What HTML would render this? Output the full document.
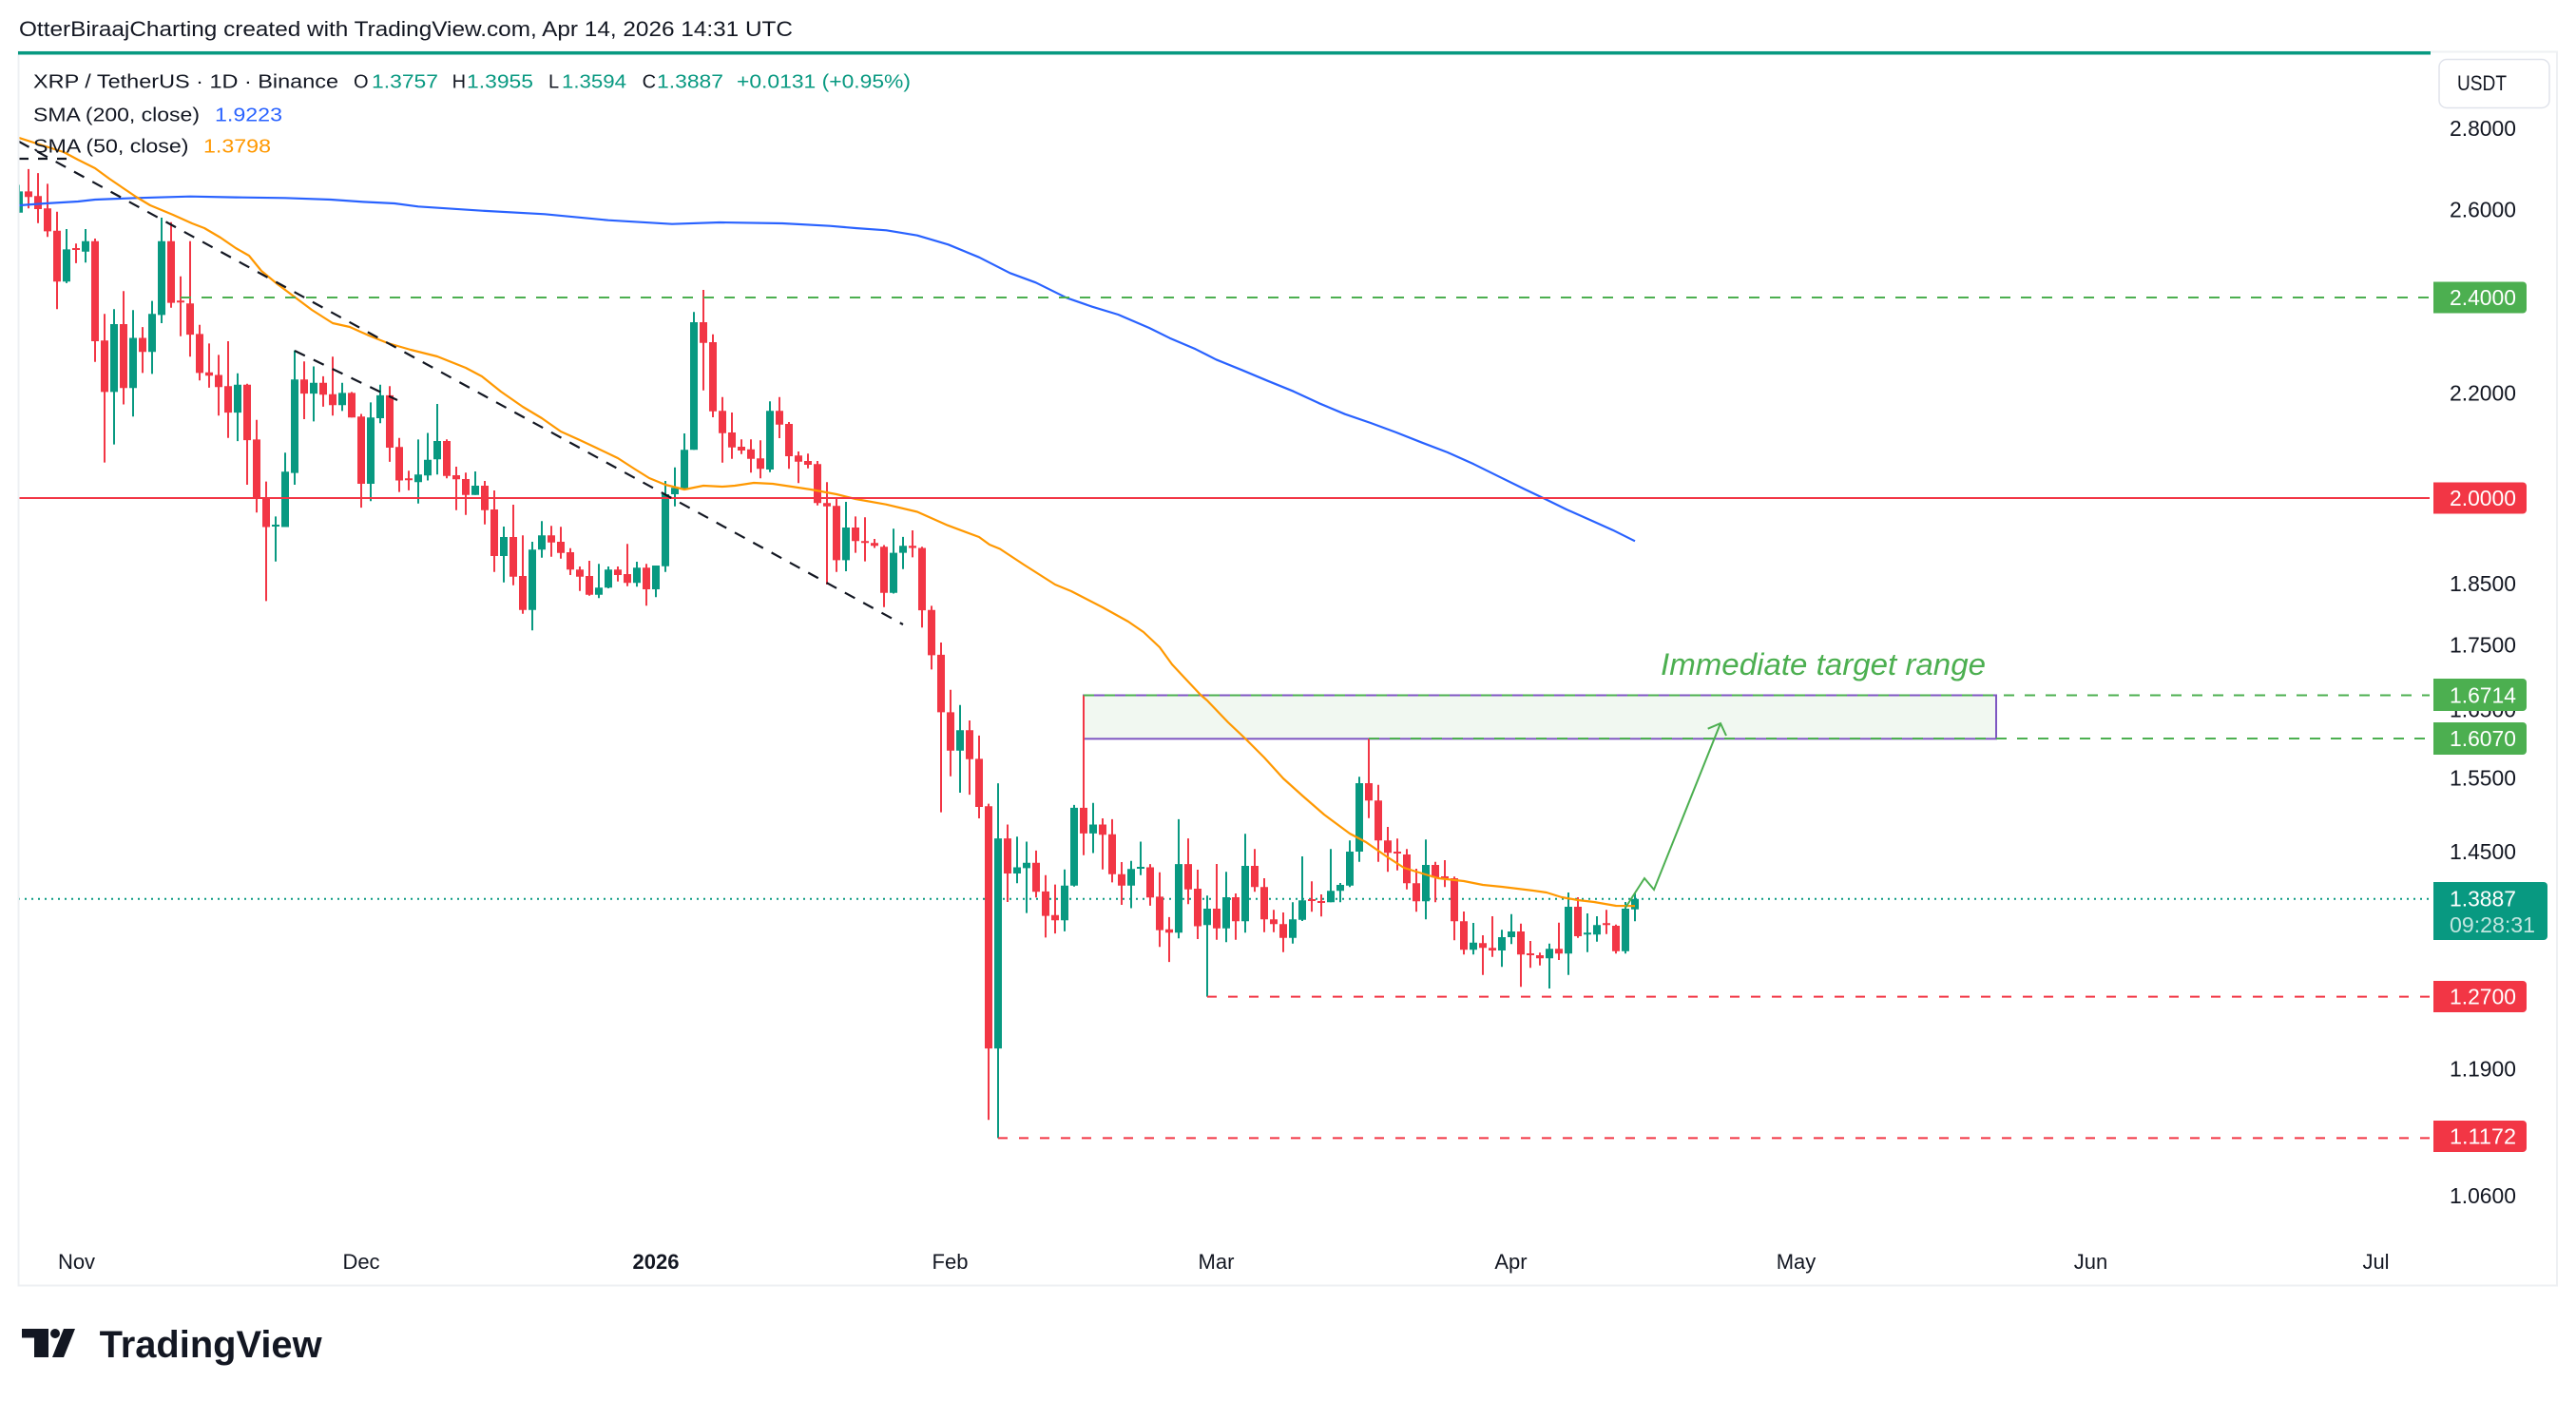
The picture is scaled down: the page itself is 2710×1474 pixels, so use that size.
<!DOCTYPE html>
<html><head><meta charset="utf-8"><style>
html,body{margin:0;padding:0;background:#fff;width:2710px;height:1474px;overflow:hidden}
svg{display:block}
text{font-family:"Liberation Sans",sans-serif}
</style></head><body>
<svg width="2710" height="1474" viewBox="0 0 2710 1474" xmlns="http://www.w3.org/2000/svg">
<defs><clipPath id="pane"><rect x="20.5" y="57" width="2536" height="1290"/></clipPath></defs>
<rect width="2710" height="1474" fill="#fff"/>
<text x="20" y="38" font-size="22" fill="#131722" textLength="814" lengthAdjust="spacingAndGlyphs">OtterBiraajCharting created with TradingView.com, Apr 14, 2026 14:31 UTC</text>
<rect x="19.5" y="54.5" width="2670.5" height="1298" fill="none" stroke="#eef0f3" stroke-width="2"/>
<rect x="19" y="54" width="2538" height="3.5" fill="#089981"/>

<g clip-path="url(#pane)">
<line x1="19" y1="945.8" x2="2556" y2="945.8" stroke="#089981" stroke-width="2" stroke-dasharray="2 5"/>
<rect x="1140" y="731.5" width="960" height="45.8" fill="#f1f8f1" stroke="#7e57c2" stroke-width="2"/>

<path fill="none" stroke="#089981" stroke-width="2" d="M20 194.5V223.8M70 241V297.9M90 241V276.2M120 325.2V467.6M140 326.2V438.3M160 316.6V393.4M170 229V340M250 392.8V464.1M290 543.4V590.7M300 476.2V554.5M310 368.6V510M330 385.5V443.4M360 402.8V432.4M390 423.4V527.2M400 404.8V445.2M440 462.4V529.7M450 455.5V505.5M460 425V499.3M500 496V520.7M530 554V612.7M560 570V663.3M570 548.3V586.7M630 593.3V629.3M640 596V619M670 591V617.3M690 595V628.3M700 506V601.7M710 491.7V532.7M720 456V514M730 328.3V473.3M810 422.3V496.7M890 528V601M940 556.3V624.5M950 564.9V598.8M1010 741.7V834M1050 824.1V1197.4M1070 880.3V929.3M1080 885.5V960.6M1120 914.7V979.9M1130 846.9V932.7M1150 844.7V897.5M1190 905.7V955.5M1200 885.5V920.7M1240 861.9V987.2M1270 942.3V1048.6M1290 917.3V991.3M1310 877.3V981.3M1360 949.3V992.7M1370 901V969M1400 893.3V949.3M1410 929V949.3M1420 884.3V933.3M1430 817.3V906.7M1500 883.3V967.3M1550 971V1004.3M1580 978.3V1017.3M1590 961.7V993.3M1630 992.7V1040M1650 939V1025.7M1670 961V1001.7M1680 964V990.7M1710 949V1003.3M1720 940V969.3"/>
<path fill="#089981" d="M16 201.4h8V223.8h-8zM66 262.4h8V296.2h-8zM86 253.8h8V264.8h-8zM116 341h8V412.4h-8zM136 355.5h8V408.3h-8zM156 330.3h8V370.3h-8zM166 253.8h8V331.4h-8zM246 404.8h8V434.1h-8zM286 552h8V554h-8zM296 496.2h8V554.5h-8zM306 399.3h8V497.6h-8zM326 402.8h8V414.1h-8zM356 413.4h8V426.2h-8zM386 439.3h8V509h-8zM396 415.9h8V440h-8zM436 499.3h8V507.2h-8zM446 483.8h8V500.3h-8zM456 464h8V483.3h-8zM496 511h8V520.7h-8zM526 565h8V585h-8zM556 578.3h8V641.7h-8zM566 563.3h8V578.3h-8zM626 618.3h8V625.7h-8zM636 599.3h8V618.3h-8zM666 597.3h8V613.3h-8zM686 595h8V620h-8zM696 520h8V595.7h-8zM706 513.3h8V520h-8zM716 473.3h8V514h-8zM726 339h8V473.3h-8zM806 432.3h8V494h-8zM886 555h8V589.4h-8zM936 581.6h8V623.7h-8zM946 574.3h8V581.6h-8zM1006 768.3h8V789.8h-8zM1046 882.1h8V1103.1h-8zM1066 912.5h8V919h-8zM1076 907.8h8V913.4h-8zM1116 931.8h8V968.3h-8zM1126 849.9h8V931.8h-8zM1146 867.5h8V876.9h-8zM1186 914.2h8V931.8h-8zM1196 912h8V914h-8zM1236 909.1h8V981.2h-8zM1266 956h8V973.3h-8zM1286 944h8V976.7h-8zM1306 911h8V969.3h-8zM1356 967.3h8V986.7h-8zM1366 947.3h8V967.7h-8zM1396 937.3h8V949.3h-8zM1406 931h8V937.3h-8zM1416 896h8V931.7h-8zM1426 824h8V896h-8zM1496 910h8V948.3h-8zM1546 991.7h8V999.3h-8zM1576 986h8V1000h-8zM1586 980h8V986h-8zM1626 998.3h8V1008.3h-8zM1646 954h8V1003.3h-8zM1666 981.3h8V983.3h-8zM1676 973.3h8V983.3h-8zM1706 956h8V1000.7h-8zM1716 945.8h8V956.7h-8z"/>
<path fill="none" stroke="#f23645" stroke-width="2" d="M30 177.9V219.3M40 182.1V234.8M50 193.4V249.3M60 222.8V325.2M80 256.2V276.9M100 251V380.7M110 330.3V486.6M130 306.2V425.5M150 344.1V392.4M180 233.8V323.8M190 290.7V353.8M200 253.8V375.2M210 341.7V400.3M220 361.4V407.9M230 373.4V437.2M240 359V460.7M260 403.8V510M270 441.7V539.3M280 506.6V632.4M320 380.3V441M340 395.9V427.9M350 375.2V437.2M370 412.4V439.3M380 435.5V534.1M410 406.2V485.9M420 460.7V517.6M430 495.2V515.9M470 462.3V503.3M480 491V536.7M490 497.3V541.7M510 506V551.7M520 516V601.7M540 531V615.7M550 563.3V645.7M580 553.3V585.7M590 554.3V587.7M600 576.7V605M610 596V621.7M620 590V626.7M650 596V611.7M660 572.3V616.7M680 593.3V637.3M740 305V410.7M750 351.7V439M760 417.7V486.7M770 434V482.7M780 462.3V477.7M790 462.3V497.3M800 463.3V503.3M820 417.7V461M830 444V493.3M840 475V508.3M850 477.3V492.7M860 485V531.7M870 507.3V615M880 523.3V601.7M900 543.4V581.6M910 544.3V590.6M920 567V576.5M930 573.5V638.7M960 558V586.4M970 575.2V660.2M980 637.4V704.4M990 676V854.6M1000 725.8V816.8M1020 758V836.1M1030 773.9V861M1040 845.6V1178.2M1060 867.5V949M1090 894.9V944.3M1100 920.7V986.4M1110 930.6V982.1M1140 731.5V899.7M1160 861V914.7M1170 861.9V928.4M1180 907V952M1210 909.1V952.9M1220 917.7V996.2M1230 964.9V1012.1M1250 882.1V951.2M1260 915V988M1280 909V988.7M1300 940V988.7M1320 893.3V938.3M1330 924V980.7M1340 957.3V980.7M1350 960V1001.7M1380 927.3V959.3M1390 941V964.3M1440 777V860.7M1450 825.7V906.7M1460 870V917.3M1470 882.3V915.7M1480 893.3V935.7M1490 914V959.3M1510 906.7V949.3M1520 905V933.3M1530 922.3V989.3M1540 959V1004.3M1560 984V1025.7M1570 964V1006.7M1600 971.7V1038.3M1610 990V1018.3M1620 1002.3V1015.7M1640 970.7V1010M1660 944V986.7M1690 957.3V982.7M1700 972.7V1003.3"/>
<path fill="#f23645" d="M26 201.4h8V207.2h-8zM36 206.2h8V220h-8zM46 219.3h8V243.4h-8zM56 242.8h8V296.2h-8zM76 261h8V263h-8zM96 253.8h8V359h-8zM106 358.3h8V412.4h-8zM126 341h8V408.3h-8zM146 355.5h8V370.3h-8zM176 253.8h8V318.6h-8zM186 316.3h8V318.3h-8zM196 319.3h8V352.1h-8zM206 351.4h8V392.4h-8zM216 391.7h8V395.2h-8zM226 394.5h8V407.2h-8zM236 406.2h8V434.1h-8zM256 404.8h8V463.1h-8zM266 462.4h8V524.5h-8zM276 524.5h8V554.5h-8zM316 399.3h8V414.1h-8zM336 402.8h8V415.2h-8zM346 414.8h8V426.2h-8zM366 413.4h8V439.3h-8zM376 438.3h8V509h-8zM406 415.9h8V471h-8zM416 470.3h8V505.5h-8zM426 503.3h8V505.3h-8zM466 464h8V500.7h-8zM476 500h8V504.3h-8zM486 504h8V520.7h-8zM506 511h8V536.7h-8zM516 536h8V585h-8zM536 565h8V606.7h-8zM546 606h8V641.7h-8zM576 563.3h8V570.7h-8zM586 570h8V581.7h-8zM596 581h8V599.3h-8zM606 599.3h8V606.7h-8zM616 606h8V625.7h-8zM646 599.3h8V605h-8zM656 604h8V613.3h-8zM676 597.3h8V620h-8zM736 339h8V360.7h-8zM746 360h8V432.7h-8zM756 432.3h8V455.7h-8zM766 455h8V470.7h-8zM776 470h8V474h-8zM786 472.7h8V482.7h-8zM796 482.3h8V493.3h-8zM816 432.3h8V446.7h-8zM826 446h8V480h-8zM836 479.3h8V485.7h-8zM846 485h8V489h-8zM856 488.3h8V529.3h-8zM866 529.3h8V532.7h-8zM876 532.3h8V589.4h-8zM896 555h8V569.2h-8zM906 569.2h8V571.3h-8zM916 571.3h8V574.3h-8zM926 575.2h8V623.7h-8zM956 574.3h8V576.5h-8zM966 576.5h8V642.1h-8zM976 641.7h8V689.4h-8zM986 688.9h8V749.4h-8zM996 749.4h8V789.8h-8zM1016 768.3h8V798.8h-8zM1026 798.4h8V849h-8zM1036 848.2h8V1103.1h-8zM1056 882.1h8V919h-8zM1086 907.8h8V938.3h-8zM1096 937.9h8V963.6h-8zM1106 962.7h8V968.3h-8zM1136 849.9h8V876.9h-8zM1156 867.5h8V878.2h-8zM1166 877.8h8V919.8h-8zM1176 919.8h8V931.8h-8zM1206 912.5h8V944.3h-8zM1216 943.4h8V978.6h-8zM1226 977.8h8V981.2h-8zM1246 909.1h8V935.7h-8zM1256 935h8V974.5h-8zM1276 956h8V976.7h-8zM1296 944h8V969.3h-8zM1316 911h8V933.3h-8zM1326 933.3h8V967.3h-8zM1336 967.3h8V972.3h-8zM1346 972.3h8V986.7h-8zM1376 946h8V948h-8zM1386 948h8V950h-8zM1436 824h8V842.3h-8zM1446 842.3h8V884.3h-8zM1456 884.3h8V897.3h-8zM1466 896h8V898h-8zM1476 899h8V929.3h-8zM1486 929.3h8V948.3h-8zM1506 910h8V923.3h-8zM1516 922h8V924h-8zM1526 924h8V969.3h-8zM1536 969.3h8V999.3h-8zM1556 992.3h8V997.3h-8zM1566 997.3h8V1000h-8zM1596 980h8V1004.3h-8zM1606 1003h8V1005h-8zM1616 1005h8V1008.3h-8zM1636 998.3h8V1003.3h-8zM1656 954h8V985h-8zM1686 971.3h8V973.3h-8zM1696 974h8V1000.7h-8z"/>

<polyline fill="none" stroke="#2962ff" stroke-width="2.2" stroke-linejoin="round" points="20,216 48,214 82,212 100,210 143,208.3 200,206.7 248,207.6 300,208.3 348,210 382,212.4 415,214 440,217.3 507,221.7 573,225.3 640,231.7 707,235.7 757,234 823,235 873,237.7 900,240 932.5,242.3 965,247.7 997.6,257.3 1030,270.7 1062.6,287.3 1089.7,297.3 1122,313.3 1149,322.7 1176.4,331 1209,345 1230.6,355.7 1257.7,367.3 1279.4,378.3 1306.5,389.3 1333.6,400.7 1360.7,411.7 1387.8,424.3 1414.9,435.7 1442,445 1469,455 1496,465.7 1523,476 1550.4,488.3 1577.5,501.7 1604.6,515 1620.9,522.7 1648,536 1675,548 1696.7,557.7 1720,569.3"/>
<polyline fill="none" stroke="#ff9800" stroke-width="2.2" stroke-linejoin="round" points="20,145 48,154 67,160 82,168 100,177 115,188 143,207 158,216 182,226 202,235 215,240 232,250 248,261 262,269 275,285 292,299 308,311 328,326 350,340 368,344 388,353 408,361 432,368 460,375 490,387 507,396 527,412 550,428 570,440 590,454 610,463 627,471 650,482 667,493 683,503 700,510 720,515 740,511 760,512 773,511 793,508 813,509 833,512 853,515 880,520 900,525 932,530.7 965,538.5 997,552.7 1030,565 1041,573 1052,577.5 1077,594 1110,615 1127,622 1160,639 1187,654 1203,665 1220,681 1233,699 1247,714 1263,731 1270,737 1292,760 1310,777 1330,797 1350,819 1370,837 1393,857 1420,877 1437,886 1460,902 1477,913 1493,918 1513,924 1540,927 1560,931 1580,933 1613,937 1627,939 1643,944 1660,947 1677,949 1700,953 1720,953.2"/>

<line x1="190" y1="313" x2="2556" y2="313" stroke="#4caf50" stroke-width="2" stroke-dasharray="11 11"/>
<line x1="19" y1="524" x2="2556" y2="524" stroke="#f23645" stroke-width="2"/>
<line x1="1140" y1="731.5" x2="2556" y2="731.5" stroke="#4caf50" stroke-width="2" stroke-dasharray="11 11"/>
<line x1="1440" y1="777" x2="2556" y2="777" stroke="#4caf50" stroke-width="2" stroke-dasharray="11 11"/>
<line x1="1270" y1="1048.6" x2="2556" y2="1048.6" stroke="#f23645" stroke-width="2" stroke-dasharray="10 12"/>
<line x1="1050" y1="1197.4" x2="2556" y2="1197.4" stroke="#f23645" stroke-width="2" stroke-dasharray="10 12"/>

<line x1="20" y1="149" x2="950" y2="657" stroke="#131722" stroke-width="2.2" stroke-dasharray="12 10"/>
<line x1="310" y1="369" x2="418" y2="421" stroke="#131722" stroke-width="2.2" stroke-dasharray="12 10"/>
<line x1="20" y1="167" x2="75" y2="167" stroke="#131722" stroke-width="2.2" stroke-dasharray="10 10"/>

<polyline fill="none" stroke="#4caf50" stroke-width="2" stroke-linejoin="miter" points="1710,955 1730,924 1740,936 1810,761"/>
<polyline fill="none" stroke="#4caf50" stroke-width="2" points="1796.7,766.7 1810,761 1816,774"/>
<text x="1747" y="710" font-size="32" font-style="italic" fill="#4caf50" textLength="342" lengthAdjust="spacingAndGlyphs">Immediate target range</text>
</g>

<!-- legend -->
<g font-size="20" fill="#131722">
<text x="35" y="92.5" textLength="321" lengthAdjust="spacingAndGlyphs">XRP / TetherUS · 1D · Binance</text>
<text x="372" y="92.5">O</text><text x="391" y="92.5" fill="#089981" textLength="70" lengthAdjust="spacingAndGlyphs">1.3757</text>
<text x="475.6" y="92.5">H</text><text x="491" y="92.5" fill="#089981" textLength="70" lengthAdjust="spacingAndGlyphs">1.3955</text>
<text x="577" y="92.5">L</text><text x="591" y="92.5" fill="#089981" textLength="68" lengthAdjust="spacingAndGlyphs">1.3594</text>
<text x="675.6" y="92.5">C</text><text x="691" y="92.5" fill="#089981" textLength="70" lengthAdjust="spacingAndGlyphs">1.3887</text>
<text x="775" y="92.5" fill="#089981" textLength="183" lengthAdjust="spacingAndGlyphs">+0.0131 (+0.95%)</text>
<text x="35" y="127.3" textLength="175" lengthAdjust="spacingAndGlyphs">SMA (200, close)</text>
<text x="226" y="127.3" fill="#2962ff" textLength="71" lengthAdjust="spacingAndGlyphs">1.9223</text>
<text x="35" y="160.7" textLength="163.5" lengthAdjust="spacingAndGlyphs">SMA (50, close)</text>
<text x="214" y="160.7" fill="#ff9800" textLength="71" lengthAdjust="spacingAndGlyphs">1.3798</text>
</g>

<!-- price axis -->
<rect x="2566" y="62.5" width="116" height="51" rx="8" fill="#fff" stroke="#e0e3eb" stroke-width="1.5"/>
<text x="2585" y="95" font-size="22" fill="#131722" textLength="52" lengthAdjust="spacingAndGlyphs">USDT</text>
<g font-size="23" fill="#131722">
<text x="2577" y="142.8" textLength="70" lengthAdjust="spacingAndGlyphs">2.8000</text>
<text x="2577" y="228.5" textLength="70" lengthAdjust="spacingAndGlyphs">2.6000</text>
<text x="2577" y="421.7" textLength="70" lengthAdjust="spacingAndGlyphs">2.2000</text>
<text x="2577" y="622.1" textLength="70" lengthAdjust="spacingAndGlyphs">1.8500</text>
<text x="2577" y="686.3" textLength="70" lengthAdjust="spacingAndGlyphs">1.7500</text>
<text x="2577" y="754.4" textLength="70" lengthAdjust="spacingAndGlyphs">1.6500</text>
<text x="2577" y="826.7" textLength="70" lengthAdjust="spacingAndGlyphs">1.5500</text>
<text x="2577" y="903.8" textLength="70" lengthAdjust="spacingAndGlyphs">1.4500</text>
<text x="2577" y="1132.4" textLength="70" lengthAdjust="spacingAndGlyphs">1.1900</text>
<text x="2577" y="1266.2" textLength="70" lengthAdjust="spacingAndGlyphs">1.0600</text>
</g>
<g font-size="23" fill="#fff">
<path d="M2560 296.5h94a4 4 0 0 1 4 4v25a4 4 0 0 1-4 4h-94z" fill="#4caf50"/>
<text x="2577" y="321" textLength="70" lengthAdjust="spacingAndGlyphs">2.4000</text>
<path d="M2560 507.5h94a4 4 0 0 1 4 4v25a4 4 0 0 1-4 4h-94z" fill="#f23645"/>
<text x="2577" y="532" textLength="70" lengthAdjust="spacingAndGlyphs">2.0000</text>
<path d="M2560 714h94a4 4 0 0 1 4 4v26a4 4 0 0 1-4 4h-94z" fill="#4caf50"/>
<text x="2577" y="739.5" textLength="70" lengthAdjust="spacingAndGlyphs">1.6714</text>
<path d="M2560 760h94a4 4 0 0 1 4 4v26a4 4 0 0 1-4 4h-94z" fill="#4caf50"/>
<text x="2577" y="785" textLength="70" lengthAdjust="spacingAndGlyphs">1.6070</text>
<path d="M2560 928h116a4 4 0 0 1 4 4v53a4 4 0 0 1-4 4h-116z" fill="#089981"/>
<text x="2577" y="953.5" textLength="70" lengthAdjust="spacingAndGlyphs">1.3887</text>
<text x="2577" y="981" fill="#fff" fill-opacity="0.75" textLength="90" lengthAdjust="spacingAndGlyphs">09:28:31</text>
<path d="M2560 1032h94a4 4 0 0 1 4 4v25a4 4 0 0 1-4 4h-94z" fill="#f23645"/>
<text x="2577" y="1056.5" textLength="70" lengthAdjust="spacingAndGlyphs">1.2700</text>
<path d="M2560 1179h94a4 4 0 0 1 4 4v25a4 4 0 0 1-4 4h-94z" fill="#f23645"/>
<text x="2577" y="1203.5" textLength="70" lengthAdjust="spacingAndGlyphs">1.1172</text>
</g>

<!-- time axis -->
<g font-size="22" fill="#131722" text-anchor="middle">
<text x="80.5" y="1335">Nov</text>
<text x="380" y="1335">Dec</text>
<text x="690" y="1335" font-weight="bold">2026</text>
<text x="999.5" y="1335">Feb</text>
<text x="1279.5" y="1335">Mar</text>
<text x="1589.5" y="1335">Apr</text>
<text x="1889.5" y="1335">May</text>
<text x="2199.5" y="1335">Jun</text>
<text x="2499.5" y="1335">Jul</text>
</g>

<!-- logo -->
<g fill="#131722">
<rect x="23" y="1398" width="28" height="9.5"/>
<rect x="36" y="1398" width="15" height="30"/>
<circle cx="58" cy="1403" r="5"/>
<polygon points="67,1398 79,1398 67,1428 55,1428"/>
<text x="104.6" y="1428" font-size="40" font-weight="bold" textLength="234" lengthAdjust="spacingAndGlyphs">TradingView</text>
</g>
</svg>
</body></html>
